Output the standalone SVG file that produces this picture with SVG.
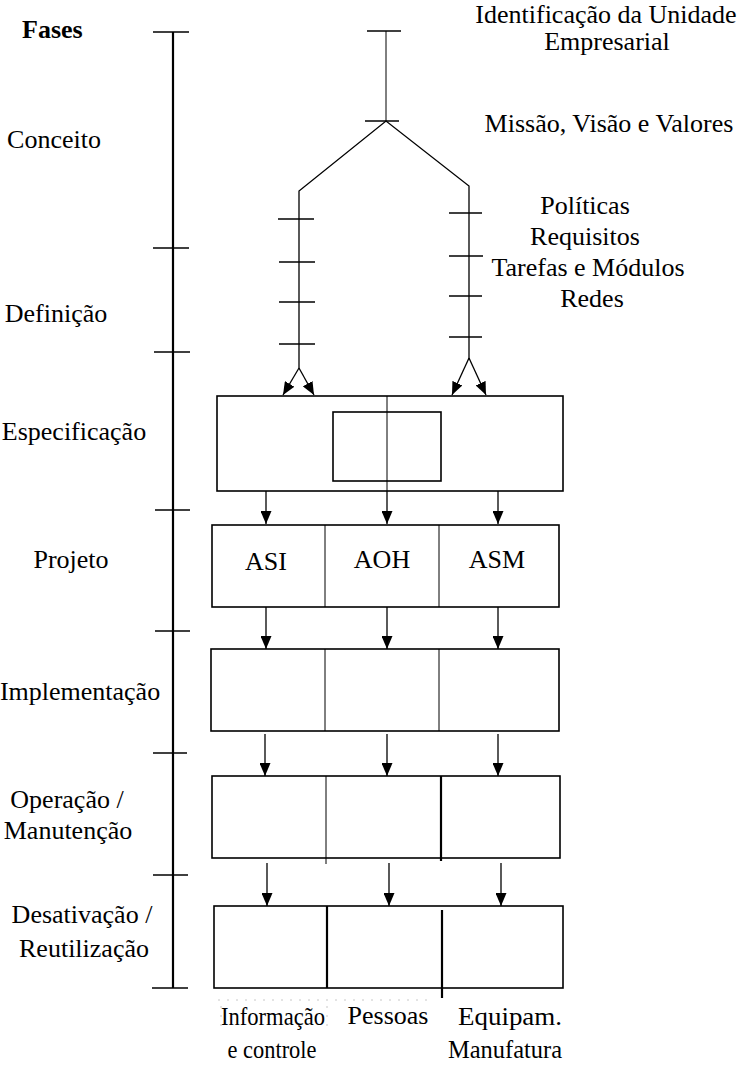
<svg xmlns="http://www.w3.org/2000/svg" width="746" height="1069" viewBox="0 0 746 1069">
<defs>
<marker id="ah" viewBox="0 0 13 11" refX="13" refY="5.5" markerWidth="13" markerHeight="11" markerUnits="userSpaceOnUse" orient="auto"><path d="M0,0 L13,5.5 L0,11 z" fill="#000"/></marker>
</defs>
<style>
.t{font-family:"Liberation Serif","Times New Roman",serif;font-size:26px;fill:#000}
.c{text-anchor:middle}
.b{font-weight:bold}
.ln{stroke:#000;stroke-width:1.3;fill:none}
.axis{stroke:#000;stroke-width:2.2;fill:none}
.box{fill:#fff;stroke:#000;stroke-width:1.6}
.thin{stroke:#000;stroke-width:1;fill:none}
.thick{stroke:#000;stroke-width:2.2;fill:none}
.ar{stroke:#000;stroke-width:1.3;fill:none;marker-end:url(#ah)}
.faint{stroke:#c8c8c8;stroke-width:1;stroke-dasharray:2 7;fill:none}
</style>
<rect width="746" height="1069" fill="#fff"/>

<g id="timeline">
<line class="axis" x1="173" y1="32" x2="173" y2="988"/>
<line class="ln" x1="153" y1="32" x2="189" y2="32"/>
<line class="ln" x1="153" y1="248" x2="189" y2="248"/>
<line class="ln" x1="154" y1="352" x2="190" y2="352"/>
<line class="ln" x1="155" y1="510" x2="190" y2="510"/>
<line class="ln" x1="155" y1="631" x2="190" y2="631"/>
<line class="ln" x1="153" y1="753" x2="187" y2="753"/>
<line class="ln" x1="153" y1="875" x2="188" y2="875"/>
<line class="ln" x1="152" y1="988" x2="188" y2="988"/>
</g>

<g id="phase-labels">
<text class="t b" x="22" y="38">Fases</text>
<text class="t c" x="54" y="148">Conceito</text>
<text class="t c" x="56" y="322">Definição</text>
<text class="t c" x="74" y="440">Especificação</text>
<text class="t c" x="71" y="568">Projeto</text>
<text class="t c" x="80" y="700">Implementação</text>
<text class="t c" x="67" y="808">Operação /</text>
<text class="t c" x="68" y="839">Manutenção</text>
<text class="t c" x="82" y="923">Desativação /</text>
<text class="t c" x="84" y="957">Reutilização</text>
</g>

<g id="tree">
<line class="thin" x1="386" y1="31" x2="386" y2="121"/>
<line class="ln" x1="367" y1="31" x2="401" y2="31"/>
<line class="ln" x1="365" y1="121" x2="399" y2="121"/>
<polyline class="ln" points="299,368 299,191 386,121 469,186 469,359"/>
<line class="ln" x1="278" y1="219" x2="314" y2="219"/>
<line class="ln" x1="279" y1="262" x2="315" y2="262"/>
<line class="ln" x1="279" y1="302" x2="315" y2="302"/>
<line class="ln" x1="279" y1="344" x2="315" y2="344"/>
<line class="ln" x1="449" y1="213" x2="482" y2="213"/>
<line class="ln" x1="449" y1="256" x2="483" y2="256"/>
<line class="ln" x1="449" y1="296" x2="482" y2="296"/>
<line class="ln" x1="449" y1="337" x2="482" y2="337"/>
</g>

<g id="tree-labels">
<text class="t c" x="606" y="23">Identificação da Unidade</text>
<text class="t c" x="607" y="50">Empresarial</text>
<text class="t c" x="609" y="132">Missão, Visão e Valores</text>
<text class="t c" x="585" y="214">Políticas</text>
<text class="t c" x="585" y="245">Requisitos</text>
<text class="t c" x="588" y="276">Tarefas e Módulos</text>
<text class="t c" x="592" y="307">Redes</text>
</g>

<g id="especificacao">
<rect class="box" x="217" y="396" width="346" height="95"/>
<rect class="box" x="333" y="412" width="108" height="69"/>
<line class="thin" x1="387" y1="396" x2="387" y2="491"/>
</g>

<g id="projeto">
<rect class="box" x="212" y="525" width="347" height="82"/>
<line class="thin" x1="325" y1="525" x2="325" y2="607"/>
<line class="thin" x1="439" y1="525" x2="439" y2="607"/>
<text class="t c" x="266" y="570">ASI</text>
<text class="t c" x="382" y="568">AOH</text>
<text class="t c" x="497" y="568">ASM</text>
</g>

<g id="implementacao">
<rect class="box" x="211" y="649" width="348" height="82"/>
<line class="thin" x1="325" y1="649" x2="325" y2="731"/>
<line class="thin" x1="439" y1="649" x2="439" y2="731"/>
</g>

<g id="operacao">
<rect class="box" x="212" y="776" width="348" height="82"/>
<line class="thin" x1="326" y1="776" x2="326" y2="864"/>
<line class="thick" x1="441" y1="776" x2="441" y2="861"/>
</g>

<g id="desativacao">
<rect class="box" x="214" y="906" width="349" height="82"/>
<line class="thick" x1="327" y1="906" x2="327" y2="988"/>
<line class="thick" x1="442" y1="910" x2="442" y2="998"/>
</g>

<g id="columns">
<text class="t c" x="273" y="1025" textLength="104" lengthAdjust="spacingAndGlyphs">Informação</text>
<text class="t c" x="272" y="1058" textLength="89" lengthAdjust="spacingAndGlyphs">e controle</text>
<text class="t c" x="388" y="1024">Pessoas</text>
<text class="t c" x="510" y="1025" textLength="104" lengthAdjust="spacingAndGlyphs">Equipam.</text>
<text class="t c" x="505" y="1058" textLength="114" lengthAdjust="spacingAndGlyphs">Manufatura</text>
<line class="faint" x1="218" y1="1000" x2="430" y2="1000"/>
<line class="faint" x1="221" y1="1006" x2="221" y2="1030"/>
<line class="faint" x1="327" y1="1006" x2="327" y2="1030"/>
</g>

<g id="connectors">
<line class="ar" x1="299" y1="368" x2="283" y2="395"/>
<line class="ar" x1="299" y1="368" x2="314" y2="395"/>
<line class="ar" x1="469" y1="358" x2="452" y2="395"/>
<line class="ar" x1="469" y1="358" x2="486" y2="395"/>
<line class="ar" x1="266" y1="491" x2="266" y2="524"/>
<line class="ar" x1="387" y1="491" x2="387" y2="524"/>
<line class="ar" x1="498" y1="491" x2="498" y2="524"/>
<line class="ar" x1="266" y1="607" x2="266" y2="649"/>
<line class="ar" x1="387" y1="607" x2="387" y2="649"/>
<line class="ar" x1="498" y1="607" x2="498" y2="649"/>
<line class="ar" x1="265" y1="734" x2="265" y2="776"/>
<line class="ar" x1="387" y1="734" x2="387" y2="776"/>
<line class="ar" x1="498" y1="734" x2="498" y2="776"/>
<line class="ar" x1="267" y1="863" x2="267" y2="906"/>
<line class="ar" x1="389" y1="863" x2="389" y2="906"/>
<line class="ar" x1="501" y1="863" x2="501" y2="906"/>
</g>
</svg>
